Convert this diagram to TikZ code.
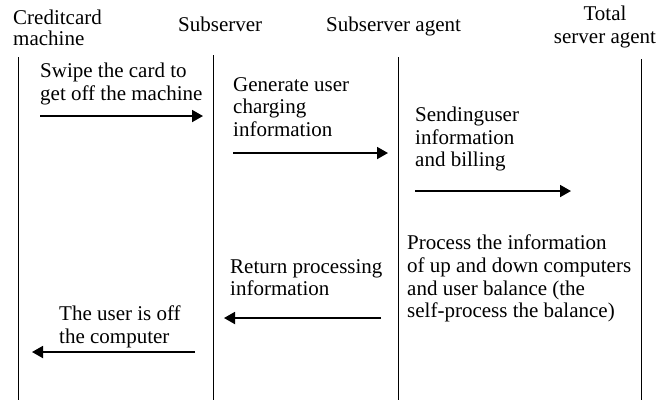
\documentclass[tikz,border=0pt]{standalone}
\usepackage{fontspec}
\setmainfont{Liberation Serif}
\usetikzlibrary{arrows.meta}

\begin{document}
\begin{tikzpicture}[x=1pt,y=-1pt,
  txt/.style={anchor=north west, inner sep=0pt, align=left, font=\fontsize{21}{22.6}\selectfont},
  msg/.style={-{Triangle[length=11pt,width=12pt]}, line width=1.8pt},
  life/.style={line width=1pt}]
\useasboundingbox (0,0) rectangle (658,400);

\node[txt, font=\fontsize{21}{20.5}\selectfont] (CM) at (13,10) {Creditcard\\machine};
\node[txt] (SS) at (178,17) {Subserver};
\node[txt] (SA) at (326,17) {Subserver agent};
\node[txt, anchor=north, align=center] (TA) at (605,6) {Total\\server agent};

\coordinate (cmTop) at (18,57);  \coordinate (cmBot) at (18,400);
\coordinate (ssTop) at (213,55); \coordinate (ssBot) at (213,400);
\coordinate (saTop) at (398,57); \coordinate (saBot) at (398,400);
\coordinate (taTop) at (641,59); \coordinate (taBot) at (641,400);

\draw[life] (cmTop) -- (cmBot);
\draw[life] (ssTop) -- (ssBot);
\draw[life] (saTop) -- (saBot);
\draw[life] (taTop) -- (taBot);

\node[txt] (swipe) at (40,63) {Swipe the card to\\get off the machine};
\node[txt] (gen) at (233,77) {Generate user\\charging\\information};
\node[txt] (send) at (415,107) {Sendinguser\\information\\and billing};
\node[txt] (proc) at (407,235) {Process the information\\of up and down computers\\and user balance (the\\self-process the balance)};
\node[txt] (ret) at (230,259) {Return processing\\information};
\node[txt] (off) at (59,306) {The user is off\\the computer};

\coordinate (a1) at (40,116);  \coordinate (b1) at (203,116);
\coordinate (a2) at (233,153); \coordinate (b2) at (388,153);
\coordinate (a3) at (415,191); \coordinate (b3) at (571,191);
\coordinate (a4) at (381,318); \coordinate (b4) at (224,318);
\coordinate (a5) at (195,352); \coordinate (b5) at (32,352);

\draw[msg] (a1) -- (b1);
\draw[msg] (a2) -- (b2);
\draw[msg] (a3) -- (b3);
\draw[msg] (a4) -- (b4);
\draw[msg] (a5) -- (b5);
\end{tikzpicture}
\end{document}
